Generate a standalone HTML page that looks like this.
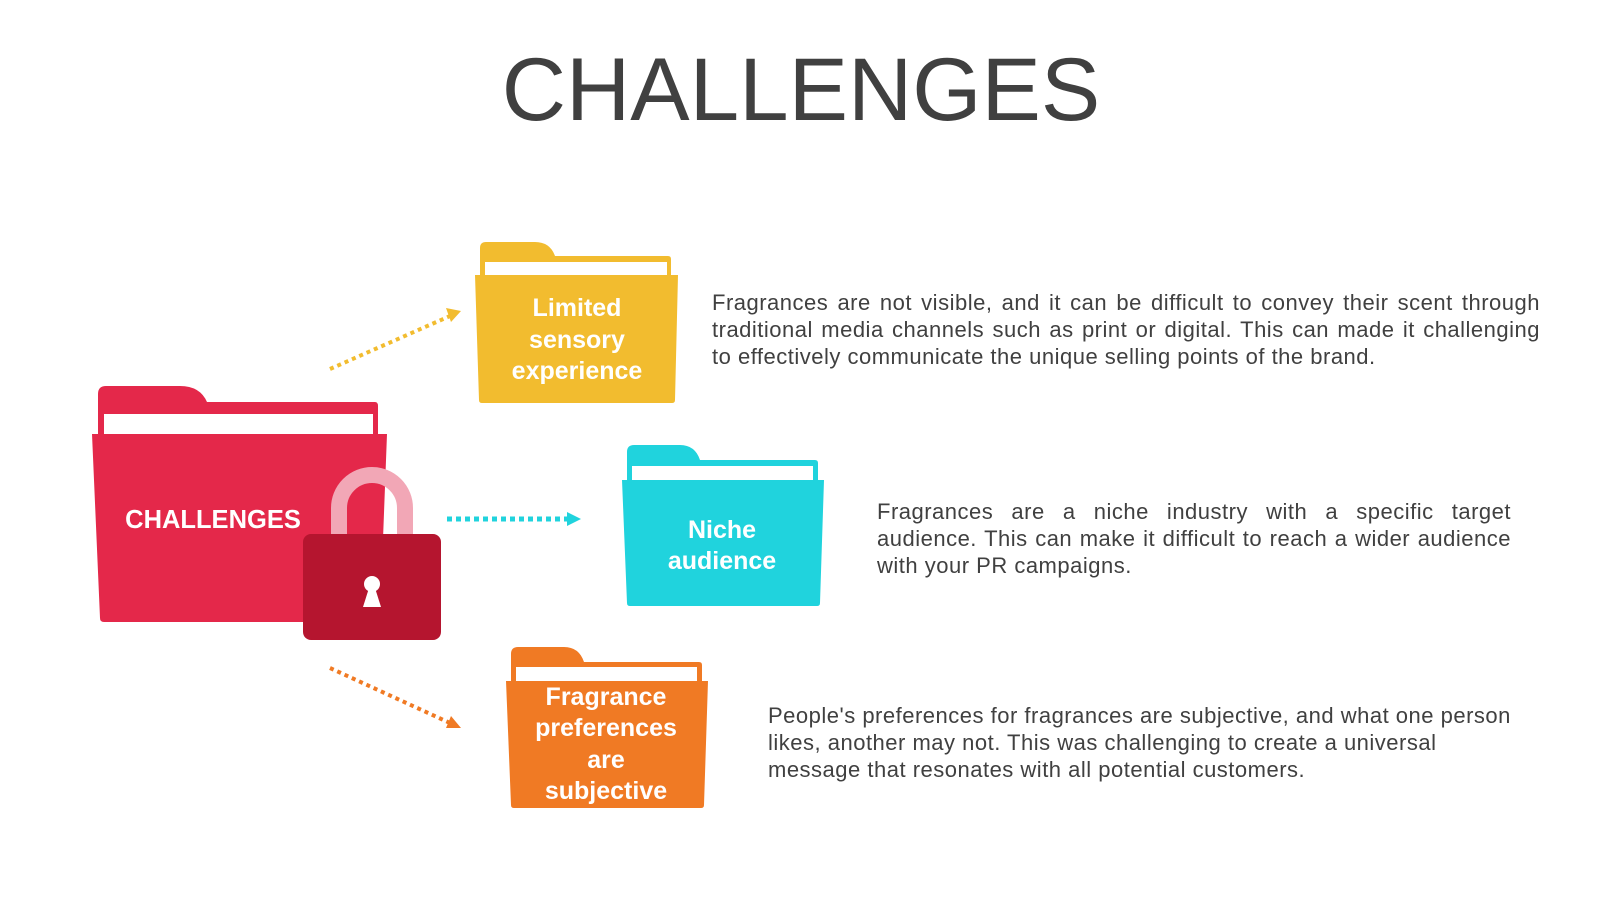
<!DOCTYPE html>
<html><head><meta charset="utf-8"><style>
body{margin:0;width:1600px;height:900px;background:#fff;position:relative;overflow:hidden;font-family:"Liberation Sans",Arial,sans-serif}
.p{position:absolute;font-size:22px;letter-spacing:0.5px;line-height:27px;color:#404040}
.j{text-align:justify;text-align-last:left}
</style></head><body>
<svg width="1600" height="900" style="position:absolute;left:0;top:0" font-family="Liberation Sans, Arial, sans-serif">
<text x="801" y="120" text-anchor="middle" font-size="89" fill="#404040">CHALLENGES</text>

<!-- red folder -->
<g fill="#e4284a">
<path d="M98,408 L98,394 Q98,386 106,386 L180,386 Q200,386 207,402 L375,402 Q378,402 378,406 L378,434 L98,434Z"/>
<path d="M92,434 L387,434 L380,618 Q380,622 376,622 L104,622 Q100,622 100,618Z"/>
</g>
<rect x="104" y="414" width="269" height="20" fill="#fff"/>
<text x="213" y="528" text-anchor="middle" font-size="25.5" font-weight="bold" fill="#fff">CHALLENGES</text>
<path d="M339,534 L339,508 A33,33 0 0 1 405,508 L405,534" fill="none" stroke="#f2a7b6" stroke-width="16"/>
<rect x="303" y="534" width="138" height="106" rx="8" fill="#b5152f"/>
<circle cx="372" cy="584" r="8" fill="#fff"/>
<polygon points="369,588 375,588 381,607 363,607" fill="#fff"/>

<!-- arrows -->
<line x1="447" y1="519" x2="568" y2="519" stroke="#20d3dd" stroke-width="5" stroke-dasharray="5,4"/>
<polygon points="567,512 581,519 567,526" fill="#20d3dd"/>
<line x1="330" y1="369" x2="450" y2="316" stroke="#f2bc2f" stroke-width="4" stroke-dasharray="4,4"/>
<polygon points="446,308 461,311 451,322" fill="#f2bc2f"/>
<line x1="330" y1="668" x2="450" y2="723" stroke="#f07a24" stroke-width="4" stroke-dasharray="4,4"/>
<polygon points="451,716 461,728 446,728" fill="#f07a24"/>

<!-- yellow folder -->
<g fill="#f2bc2f">
<path d="M480,262 L480,248 Q480,242 486,242 L535,242 Q550,242 555,256 L668,256 Q671,256 671,259 L671,275 L480,275Z"/>
<path d="M475,275 L678,275 L675,400 Q675,403 672,403 L482,403 Q479,403 479,400Z"/>
</g>
<rect x="485" y="262" width="182" height="13" fill="#fff"/>
<g font-size="25" font-weight="bold" fill="#fff" text-anchor="middle">
<text x="577" y="316">Limited</text><text x="577" y="348">sensory</text><text x="577" y="379">experience</text>
</g>

<!-- cyan folder -->
<g fill="#20d3dd">
<path d="M627,467 L627,452 Q627,445 634,445 L680,445 Q695,445 700,460 L815,460 Q818,460 818,463 L818,480 L627,480Z"/>
<path d="M622,480 L824,480 L820,603 Q820,606 817,606 L630,606 Q627,606 627,603Z"/>
</g>
<rect x="632" y="466" width="181" height="14" fill="#fff"/>
<g font-size="25" font-weight="bold" fill="#fff" text-anchor="middle">
<text x="722" y="538">Niche</text><text x="722" y="569">audience</text>
</g>

<!-- orange folder -->
<g fill="#f07a24">
<path d="M511,668 L511,654 Q511,647 518,647 L564,647 Q579,647 584,662 L699,662 Q702,662 702,665 L702,681 L511,681Z"/>
<path d="M506,681 L708,681 L704,805 Q704,808 701,808 L514,808 Q511,808 511,805Z"/>
</g>
<rect x="516" y="667" width="181" height="14" fill="#fff"/>
<g font-size="25" font-weight="bold" fill="#fff" text-anchor="middle">
<text x="606" y="705">Fragrance</text><text x="606" y="736">preferences</text><text x="606" y="768">are</text><text x="606" y="799">subjective</text>
</g>
</svg>

<div class="p j" style="left:712px;top:289px;width:828px">Fragrances are not visible, and it can be difficult to convey their scent through traditional media channels such as print or digital. This can made it challenging to effectively communicate the unique selling points of the brand.</div>
<div class="p j" style="left:877px;top:498px;width:634px">Fragrances are a niche industry with a specific target audience. This can make it difficult to reach a wider audience with your PR campaigns.</div>
<div class="p" style="left:768px;top:702px;width:765px">People's preferences for fragrances are subjective, and what one person likes, another may not. This was challenging to create a universal message that resonates with all potential customers.</div>
</body></html>
